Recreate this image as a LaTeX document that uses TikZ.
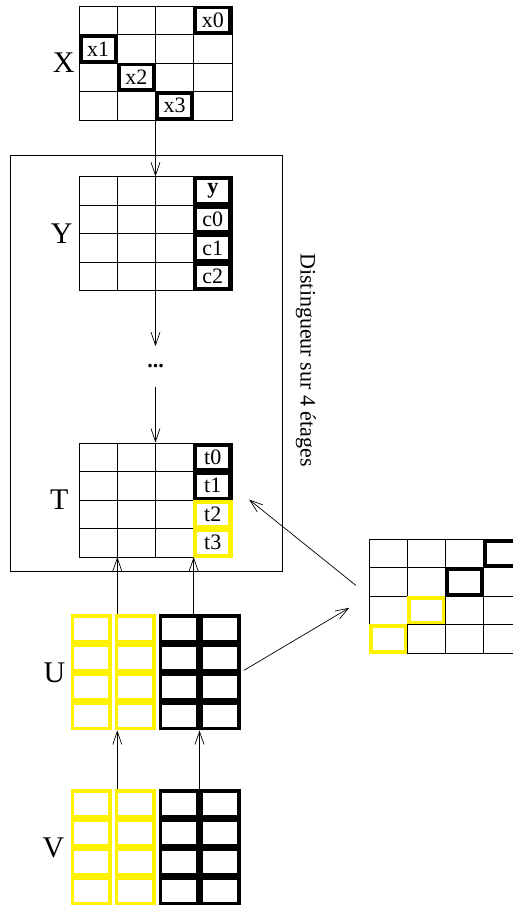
\documentclass[tikz,border=0pt]{standalone}
\usepackage{fontspec}
\setmainfont{Liberation Serif}
\usetikzlibrary{positioning, arrows.meta, matrix}

\begin{document}
\begin{tikzpicture}[
    x=1pt, y=-1pt,
    cell/.style={draw, line width=0.8pt, minimum width=38.2pt, minimum height=28.5pt, inner sep=0pt, outer sep=0pt, anchor=center, font=\fontsize{22}{22}\selectfont},
    hl/.style={path picture={\draw[line width=3.5pt, #1] ([shift={(1.75pt,-1.75pt)}]path picture bounding box.north west) rectangle ([shift={(-1.75pt,1.75pt)}]path picture bounding box.south east);}},
    hl/.default=black,
    ycell/.style={hl=yellow, draw=yellow},
    gridmat/.style={matrix of nodes, nodes in empty cells, inner sep=0pt, outer sep=0pt, row sep=-0.8pt, column sep=-0.8pt, nodes={cell}},
    thk/.style={draw=#1, line width=3.5pt, minimum width=37.5pt, minimum height=25.5pt, inner sep=0pt, outer sep=1.75pt, anchor=center},
    stackmat/.style={matrix of nodes, nodes in empty cells, inner sep=0pt, outer sep=0pt, row sep=0pt, column sep=0pt,
        column 1/.style={nodes={thk=yellow}}, column 2/.style={nodes={thk=yellow}},
        column 3/.style={nodes={thk=black}}, column 4/.style={nodes={thk=black}}},
    lbl/.style={inner sep=0pt, font=\fontsize{30}{30}\selectfont},
    arr/.style={draw, line width=0.7pt, -{Straight Barb[length=13pt, width=9pt]}}
]
\useasboundingbox (0,0) rectangle (513,907);

% the four stages
\node[draw, line width=0.8pt, minimum width=272pt, minimum height=416pt, inner sep=0pt] (box) at (146,363) {};
\node[rotate=-90, font=\fontsize{22}{22}\selectfont] (caption) at (306,360) {Distingueur sur 4 étages};

\matrix (X) [gridmat] at (155.5,63) {
           &            &            & |[hl]| x0 \\
|[hl]| x1  &            &            &           \\
           & |[hl]| x2  &            &           \\
           &            & |[hl]| x3  &           \\
};
\matrix (Y) [gridmat, below=56pt of X] {
 & & & |[hl]| \textbf{y} \\
 & & & |[hl]| c0 \\
 & & & |[hl]| c1 \\
 & & & |[hl]| c2 \\
};
\node[minimum height=40pt, inner sep=0pt, font=\fontsize{22}{22}\selectfont\bfseries, below=55pt of Y] (dots) {...};
\matrix (T) [gridmat, below=56pt of dots] {
 & & & |[hl]| t0 \\
 & & & |[hl]| t1 \\
 & & & |[ycell]| t2 \\
 & & & |[ycell]| t3 \\
};
\matrix (U) [stackmat, below=57pt of T] {
 &[3pt] &[3pt] & \\
 &[3pt] &[3pt] & \\
 &[3pt] &[3pt] & \\
 &[3pt] &[3pt] & \\
};
\matrix (V) [stackmat, below=59pt of U] {
 &[3pt] &[3pt] & \\
 &[3pt] &[3pt] & \\
 &[3pt] &[3pt] & \\
 &[3pt] &[3pt] & \\
};
\matrix (R) [gridmat] at (445.5,596) {
              &             &          & |[hl]| \\
              &             & |[hl]|   &        \\
              & |[ycell]|   &          &        \\
  |[ycell]|   &             &          &        \\
};

\node[lbl, left=4pt of X] {X};
\node[lbl, left=6pt of Y] {Y};
\node[lbl, left=10pt of T] {T};
\node[lbl, left=5pt of U] {U};
\node[lbl, left=6pt of V] {V};

% connectors
\draw[arr] (X.south) -- (Y.north);
\draw[arr] (Y.south) -- (dots.north);
\draw[arr] (dots.south) -- (T.north);
\draw[arr] (U.north -| T-4-1.south east) -- (T-4-1.south east);
\draw[arr] (U.north -| T-4-3.south east) -- (T-4-3.south east);
\draw[arr] (V.north -| T-4-1.south east) -- (U.south -| T-4-1.south east);
\draw[arr] (V-1-4.north west) -- (U-4-4.south west);
\draw[arr, shorten <=4pt, shorten >=23pt] (U.east) -- (R-3-1.north west);
\draw[arr, shorten <=17pt, shorten >=22pt] (R-3-1.north west) -- (T-2-4.east);
\end{tikzpicture}
\end{document}
